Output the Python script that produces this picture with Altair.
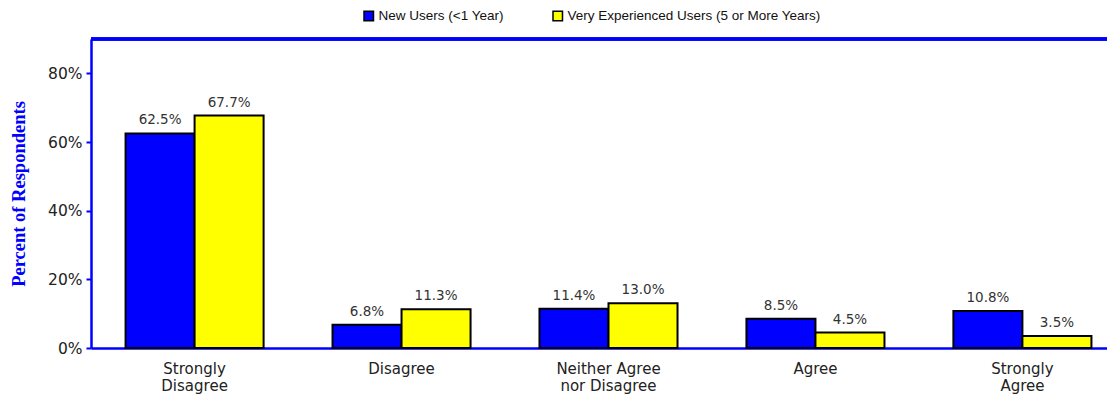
import altair as alt
import pandas as pd

categories = ["Strongly Disagree", "Disagree", "Neither Agree nor Disagree", "Agree", "Strongly Agree"]
label_lines = [["Strongly", "Disagree"], ["Disagree"], ["Neither Agree", "nor Disagree"], ["Agree"], ["Strongly", "Agree"]]
series = ["New Users (<1 Year)", "Very Experienced Users (5 or More Years)"]
new_users = [0.625, 0.068, 0.114, 0.085, 0.108]
experienced = [0.677, 0.113, 0.130, 0.045, 0.035]
y_ticks = [0, 0.2, 0.4, 0.6, 0.8]
colors = ["#0000FF", "#FFFF00"]

rows = []
for i, c in enumerate(categories):
    rows.append({"cat": c, "series": series[0], "val": new_users[i]})
    rows.append({"cat": c, "series": series[1], "val": experienced[i]})
df = pd.DataFrame(rows)

parts = []
for c, lines in zip(categories, label_lines):
    arr = "[" + ",".join("'" + l + "'" for l in lines) + "]"
    parts.append(f"datum.value == '{c}' ? {arr} : ")
label_expr = "".join(parts) + "datum.label"

W, H = 1016, 309
XR = 1035  # the reference plot area runs past the right edge of the picture
BLUE = "#0000FF"

x_enc = alt.X("cat:N", sort=categories,
              scale=alt.Scale(paddingInner=0.333, paddingOuter=0.167, range=[0, XR]),
              axis=alt.Axis(title=None, labelAngle=0, labelExpr=label_expr,
                            labelFont="DejaVu Sans", labelFontSize=15, labelColor="#222",
                            labelPadding=13, labelLineHeight=17, ticks=False,
                            domainColor=BLUE, domainWidth=2.5, labelBaseline="top"))
y_enc = alt.Y("val:Q", scale=alt.Scale(domain=[0, 0.9], nice=False),
              axis=alt.Axis(values=y_ticks, format=".0%", title="Percent of Respondents",
                            labelFont="DejaVu Sans", labelFontSize=15.5, labelColor="#222",
                            labelPadding=4, tickSize=5, tickColor=BLUE, tickWidth=2,
                            domainColor=BLUE, domainWidth=2.5, grid=False,
                            titleFont="Liberation Serif", titleFontWeight="bold",
                            titleFontSize=18.5, titleColor=BLUE,
                            titleX=-73, titleY=H / 2, titleAngle=270,
                            titleAlign="center", titleBaseline="middle"))
xoff = alt.XOffset("series:N", sort=series)

bars = alt.Chart(df).mark_bar(stroke="black", strokeWidth=2).encode(
    x=x_enc, y=y_enc, xOffset=xoff,
    color=alt.Color("series:N", sort=series,
                    scale=alt.Scale(domain=series, range=colors),
                    legend=alt.Legend(title=None, orient="none", direction="horizontal",
                                      legendX=271, legendY=-30,
                                      symbolType="square", symbolSize=90,
                                      symbolStrokeColor="black", symbolStrokeWidth=1.5,
                                      labelFont="Liberation Sans", labelFontSize=13.5,
                                      labelColor="#111", labelOffset=3, labelLimit=0,
                                      columnPadding=46))
)

texts = alt.Chart(df).mark_text(baseline="bottom", dy=-6, font="DejaVu Sans",
                                fontSize=13.5, color="#333").encode(
    x=alt.X("cat:N", sort=categories), y="val:Q", xOffset=xoff,
    text=alt.Text("val:Q", format=".1%")
)

top_line = alt.Chart(df).mark_rule(color=BLUE, strokeWidth=2.5).encode(
    x=alt.value(0), x2=alt.value(XR), y=alt.value(0)
)

chart = alt.layer(bars, texts, top_line).properties(
    width=W, height=H,
    autosize=alt.AutoSizeParams(type="none"),
    padding={"left": 83, "top": 31, "right": 0, "bottom": 48},
).configure_view(stroke=None)

chart.save("out.html", embed_options={"renderer": "svg", "actions": False})
